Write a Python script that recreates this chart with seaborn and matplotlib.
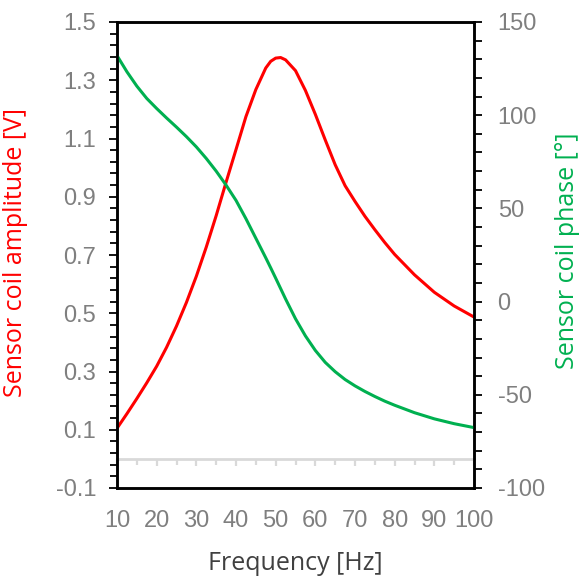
import numpy as np
import pandas as pd
import matplotlib
matplotlib.use("Agg")
import matplotlib.pyplot as plt
import seaborn as sns
from matplotlib.ticker import FixedLocator, MultipleLocator

# frequency [Hz] and values
freq = [10, 12.5, 15, 17.5, 20, 22.5, 25, 27.5, 30, 32.5, 35, 37.5, 40, 42.5, 45, 47.5,
        48.75, 50, 51.25, 52.5, 55, 57.5, 60, 62.5, 65, 67.5, 70, 72.5, 75, 77.5, 80,
        85, 90, 95, 100]
amplitude = [0.105, 0.155, 0.207, 0.261, 0.318, 0.383, 0.456, 0.537, 0.627, 0.727, 0.835,
             0.95, 1.062, 1.175, 1.268, 1.342, 1.365, 1.376, 1.378, 1.37, 1.333, 1.265,
             1.183, 1.095, 1.01, 0.938, 0.884, 0.833, 0.787, 0.743, 0.702, 0.632, 0.572,
             0.525, 0.487]
phase = [132, 123.3, 115.6, 109, 103.6, 98.5, 93.6, 88.5, 83, 76.8, 70, 62.5, 54.3, 44.5,
         34, 23.5, 18.1, 12.6, 7, 1.4, -9.2, -18.4, -26.2, -32.6, -37.6, -41.8, -45.2,
         -48.2, -50.9, -53.4, -55.6, -59.6, -62.9, -65.5, -67.6]

df = pd.DataFrame({"freq": freq, "amp": amplitude, "phase": phase})

sns.set_style("white")
plt.rcParams["font.family"] = ["Liberation Sans", "DejaVu Sans"]
plt.rcParams["axes.unicode_minus"] = False

tick_gray = "#7f7f7f"
red = "#ff0000"
green = "#00b050"
zero_gray = "#d9d9d9"

fig = plt.figure(figsize=(5.79, 5.76), dpi=100)
ax = fig.add_axes([117 / 579, 88 / 576, 357 / 579, 466 / 576])
ax2 = ax.twinx()

sns.lineplot(data=df, x="freq", y="amp", ax=ax, color=red, lw=2.2)
sns.lineplot(data=df, x="freq", y="phase", ax=ax2, color=green, lw=2.2)

ax.set_xlim(10, 100)
ax.set_ylim(-0.1, 1.5)
ax2.set_ylim(-100, 150)

# left axis
ax.yaxis.set_major_locator(FixedLocator(np.arange(-0.1, 1.51, 0.2)))
ax.yaxis.set_minor_locator(FixedLocator(np.arange(-0.1, 1.501, 0.04)))
ax.yaxis.set_major_formatter(lambda v, p: f"{v:.1f}")
ax.tick_params(axis="y", which="major", direction="out", length=6, width=1.3,
               color="black", labelcolor=tick_gray, labelsize=17, pad=9, left=True)
ax.tick_params(axis="y", which="minor", direction="out", length=5, width=1.3,
               color="black", left=True)

# x axis labels at the bottom, no marks
ax.xaxis.set_major_locator(MultipleLocator(10))
ax.tick_params(axis="x", which="both", length=0, labelcolor=tick_gray, labelsize=17, pad=16)

# right axis
ax2.yaxis.set_major_locator(MultipleLocator(50))
ax2.yaxis.set_minor_locator(MultipleLocator(10))
ax2.tick_params(axis="y", which="major", direction="out", length=6, width=1.3,
                color="black", labelcolor=tick_gray, labelsize=17, pad=11, right=True)
ax2.tick_params(axis="y", which="minor", direction="out", length=6, width=1.3,
                color="black", right=True)

for a in (ax, ax2):
    for s in a.spines.values():
        s.set_visible(True)
        s.set_color("black")
        s.set_linewidth(1.8)

# light gray category axis crossing at zero
zero_ax = ax.secondary_xaxis(0, transform=ax.transData)
zero_ax.spines["bottom"].set_color(zero_gray)
zero_ax.spines["bottom"].set_linewidth(2)
zero_ax.xaxis.set_major_locator(MultipleLocator(10))
zero_ax.xaxis.set_minor_locator(MultipleLocator(5))
zero_ax.tick_params(axis="x", which="major", direction="out", length=5, width=1.6,
                    color=zero_gray, labelbottom=False)
zero_ax.tick_params(axis="x", which="minor", direction="out", length=4, width=1.6,
                    color=zero_gray, labelbottom=False)

label_font = ["Open Sans", "DejaVu Sans"]
ax.set_xlabel("Frequency [Hz]", fontsize=18, color="#404040", family=label_font)
ax.set_ylabel("Sensor coil amplitude [V]", fontsize=18, color=red, family=label_font)
ax2.set_ylabel("Sensor coil phase [°]", fontsize=18, color=green, family=label_font)
ax.xaxis.set_label_coords(0.5, -0.135)
ax.yaxis.set_label_coords(-0.25, 0.506)
ax2.yaxis.set_label_coords(1.226, 0.51)

fig.savefig("out.png", dpi=100)
